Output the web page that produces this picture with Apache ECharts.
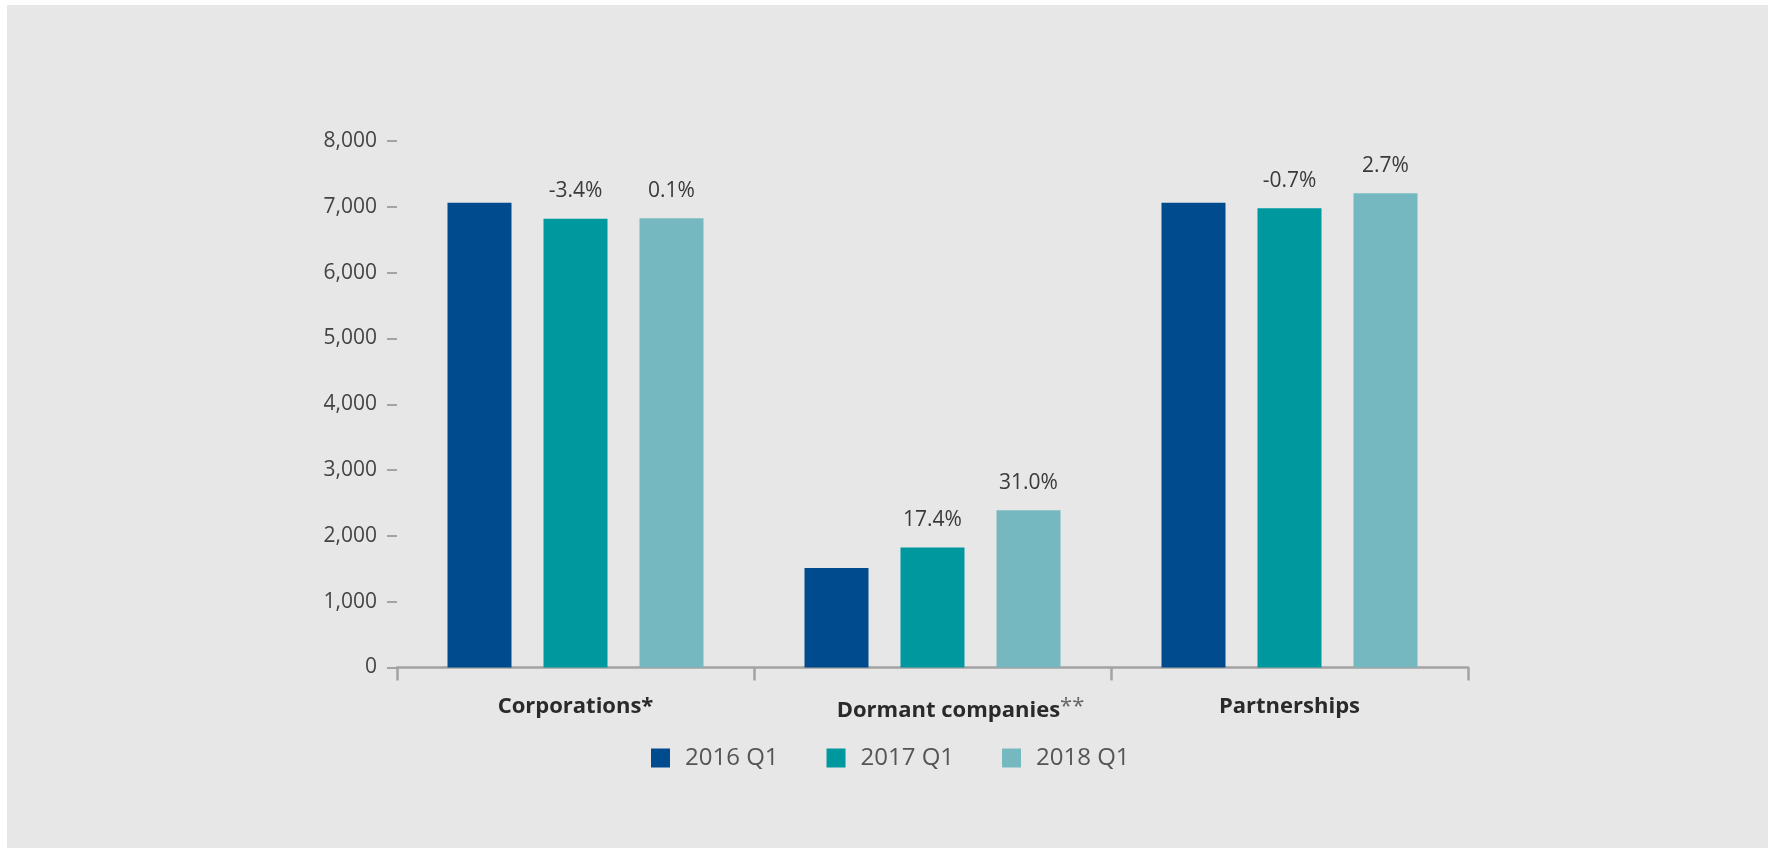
<!DOCTYPE html>
<html>
<head>
<meta charset="utf-8">
<script src="https://cdn.jsdelivr.net/npm/echarts@6/dist/echarts.min.js"></script>
<style>
  html, body { margin: 0; padding: 0; background: #fff; }
  #chart { width: 1768px; height: 848px; }
</style>
</head>
<body>
<div id="chart"></div>
<script>
const categories = ['Corporations*', 'Dormant companies**', 'Partnerships']
const seriesNames = ['2016 Q1', '2017 Q1', '2018 Q1']
const values2016 = [7060, 1510, 7060]
const values2017 = [6820, 1825, 6980]
const values2018 = [6825, 2390, 7205]
const growth2017 = ['-3.4%', '17.4%', '-0.7%']
const growth2018 = ['0.1%', '31.0%', '2.7%']
const colors = ['#004b8d', '#00989f', '#76b8bf']

const FONT = '"Open Sans", sans-serif'

const chart = echarts.init(document.getElementById('chart'), null, { renderer: 'canvas' })

// 柱顶的增长率标签
function barLabel(labels) {
  return {
    show: !!labels,
    position: 'top',
    distance: 17,
    color: '#3a3a3a',
    fontSize: 21,
    fontFamily: FONT,
    formatter: (p) => labels ? labels[p.dataIndex] : '',
  }
}

function makeSeries(name, data, color, labels) {
  return {
    name, type: 'bar', data,
    barWidth: 64, barGap: '50%',
    itemStyle: { color },
    label: barLabel(labels),
    emphasis: { disabled: true },
  }
}

// "**" 上标显示，且文字略向右偏
function catLabel(name) {
  if (name.endsWith('**')) return '{pad| }' + name.slice(0, -2) + '{sup|**}'
  return name
}

chart.setOption({
  backgroundColor: '#fff',
  animation: false,
  textStyle: { fontFamily: FONT },
  graphic: [
    { type: 'rect', z: -10, silent: true, shape: { x: 7, y: 5, width: 1761, height: 843 }, style: { fill: '#e7e7e7' } },
  ],
  grid: { left: 397, right: 300, top: 141, bottom: 180.5 },
  legend: {
    left: 646, top: 741,
    icon: 'rect', itemWidth: 19, itemHeight: 19, itemGap: 48,
    textStyle: { color: '#555', fontSize: 24, fontFamily: FONT, padding: [0, 0, 0, 10] },
    data: seriesNames,
    selectedMode: false,
  },
  xAxis: {
    type: 'category', data: categories,
    axisLine: { lineStyle: { color: '#a3a3a3', width: 2.5 } },
    axisTick: { show: true, interval: 0, length: 13, lineStyle: { color: '#a3a3a3', width: 2.5 } },
    axisLabel: {
      interval: 0, margin: 28, color: '#2a2a2a', fontSize: 22, fontWeight: 'bold', fontFamily: FONT,
      formatter: catLabel,
      rich: {
        pad: { width: 56, fontSize: 22 },
        sup: { fontSize: 22, fontWeight: 'normal', color: '#666', fontFamily: FONT, padding: [0, 0, 9, 0] },
      },
    },
  },
  yAxis: {
    type: 'value', min: 0, max: 8000, interval: 1000,
    axisLine: { show: false },
    axisTick: { show: true, length: 10, lineStyle: { color: '#a3a3a3', width: 2 } },
    splitLine: { show: false },
    axisLabel: {
      margin: 20, color: '#444', fontSize: 21, fontFamily: FONT,
      formatter: (v) => v.toLocaleString('en-US'),
    },
  },
  series: [
    makeSeries(seriesNames[0], values2016, colors[0], null),
    makeSeries(seriesNames[1], values2017, colors[1], growth2017),
    makeSeries(seriesNames[2], values2018, colors[2], growth2018),
  ],
})
</script>
</body>
</html>
